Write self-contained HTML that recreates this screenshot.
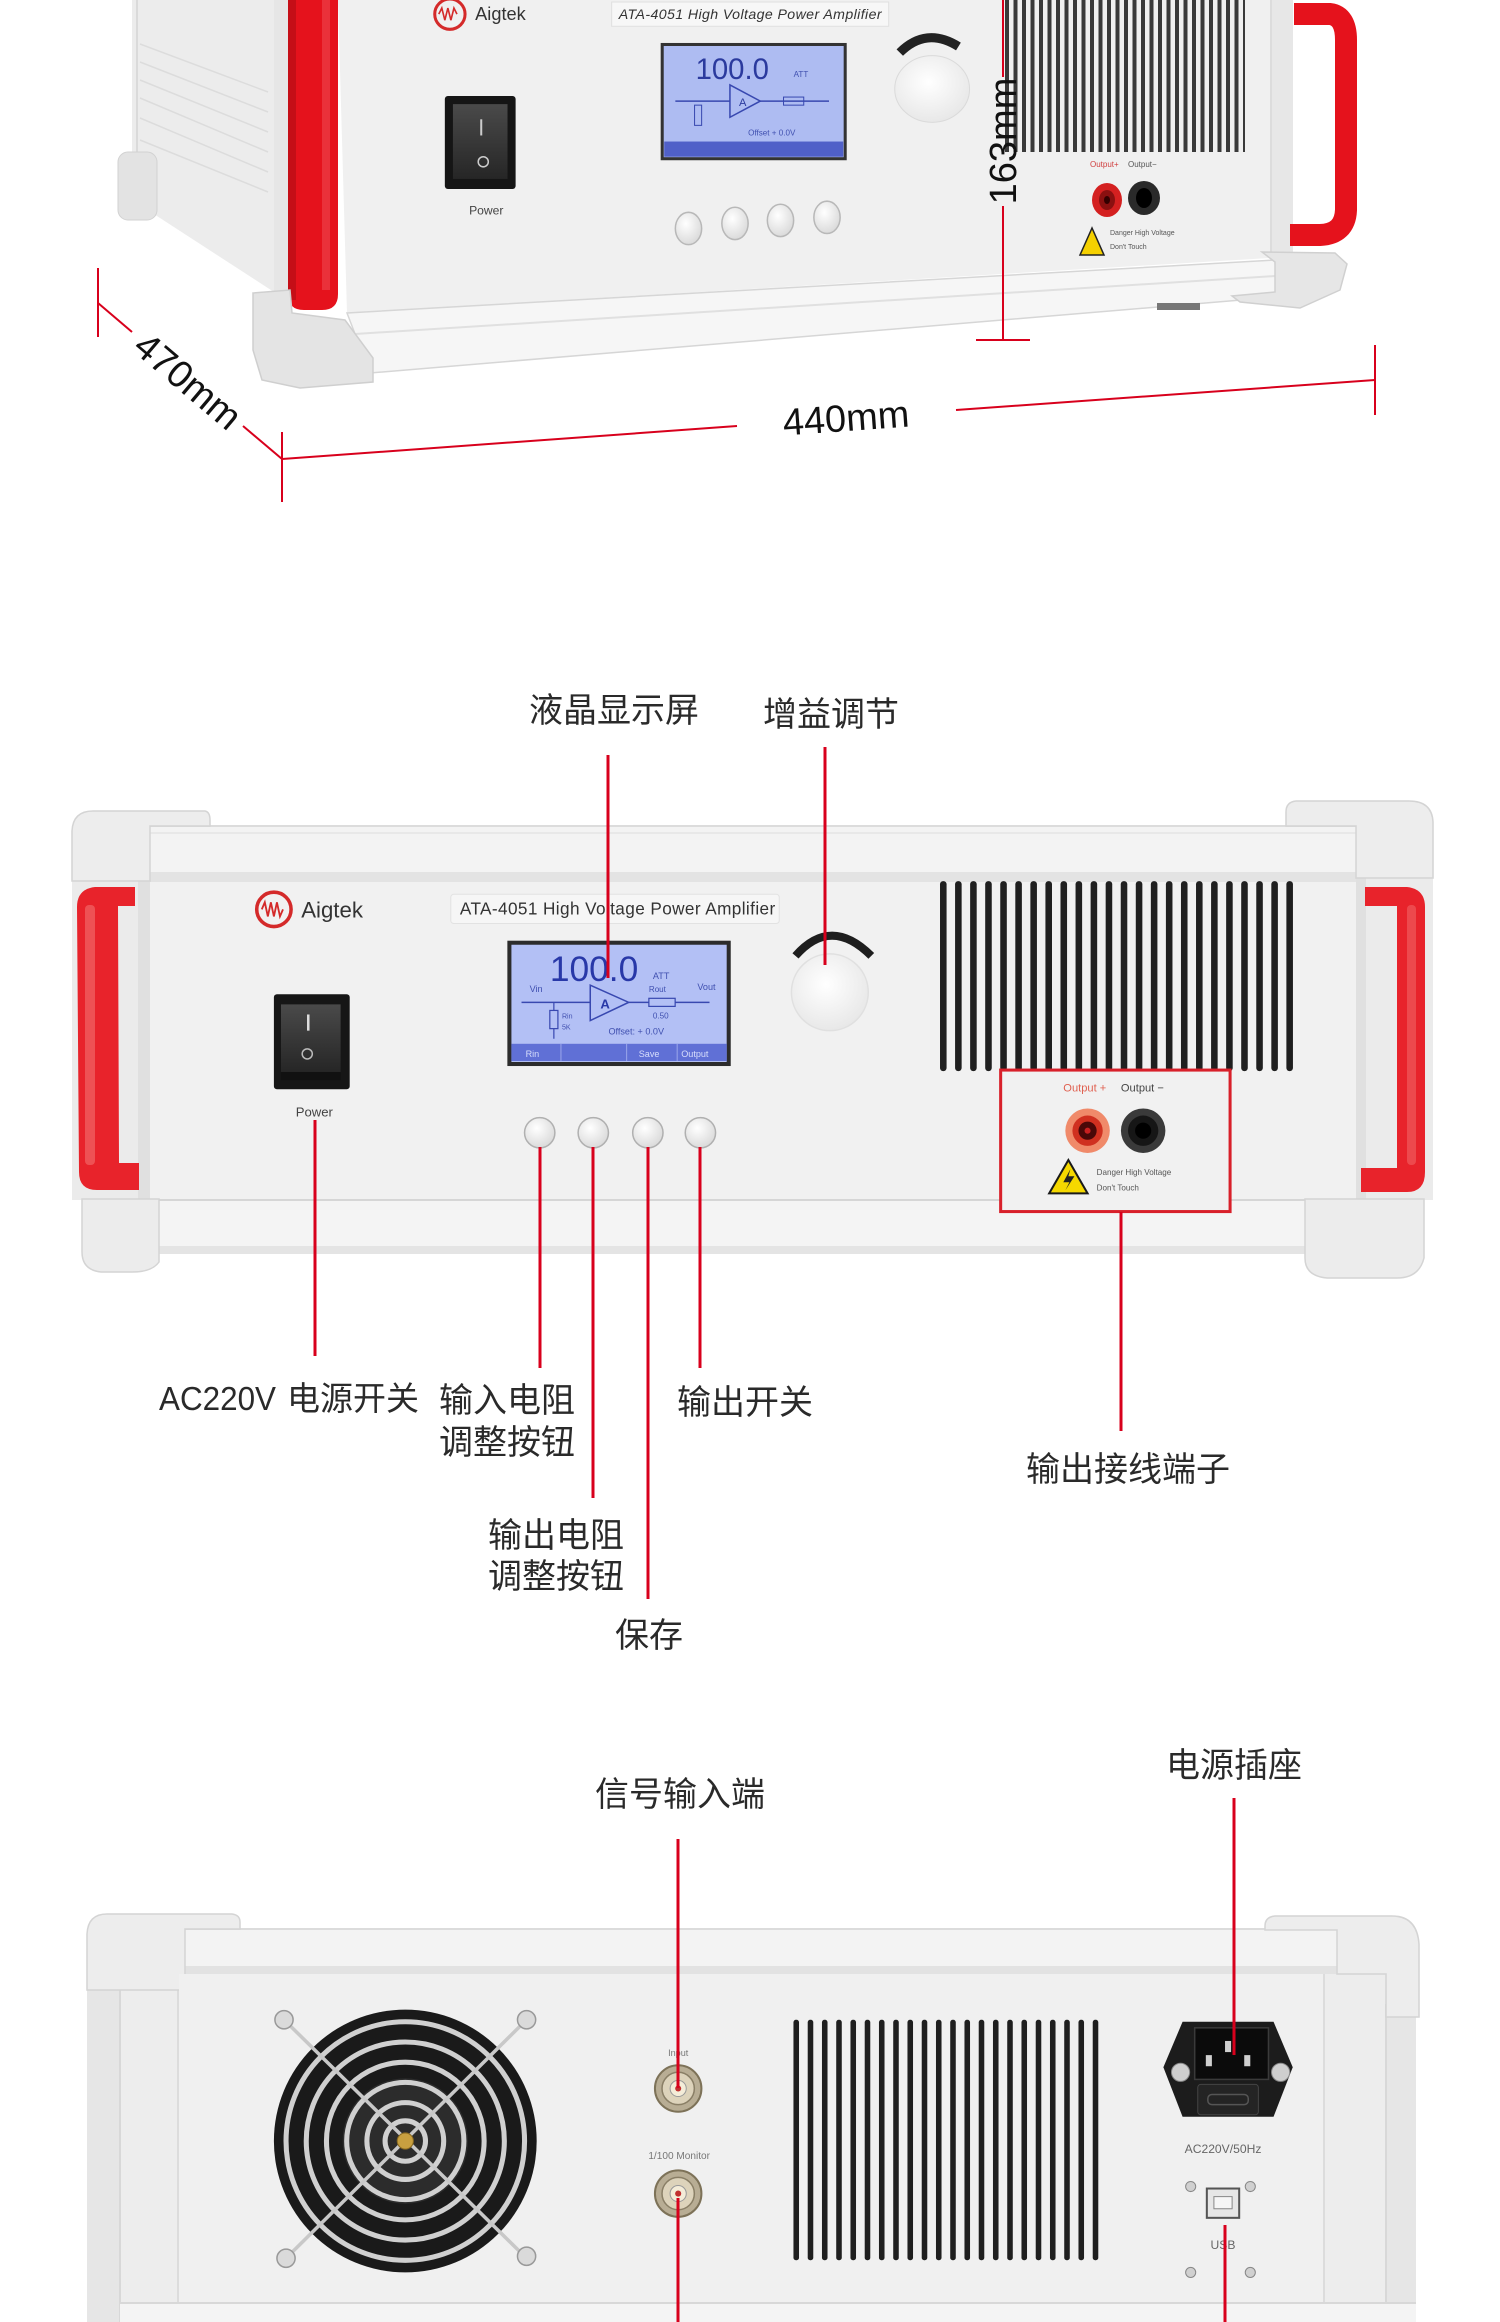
<!DOCTYPE html>
<html><head><meta charset="utf-8">
<style>
html,body{margin:0;padding:0;background:#fff;}
svg{display:block;}
.lb{font-family:"Liberation Sans","Noto Sans CJK SC",sans-serif;font-size:34px;fill:#2a2a2a;}
.dm{font-family:"Liberation Sans",sans-serif;font-size:38px;fill:#111;}
.sm{font-family:"Liberation Sans",sans-serif;}
.rl{stroke:#d8001c;stroke-width:3;fill:none;}
.dl{stroke:#d8001c;stroke-width:2;fill:none;}
</style></head><body>
<svg width="1500" height="2322" viewBox="0 0 1500 2322" xmlns="http://www.w3.org/2000/svg">
<defs>
<pattern id="v1" width="8.5" height="10" patternUnits="userSpaceOnUse" patternTransform="translate(1005,0)"><rect x="0" y="0" width="4" height="10" fill="#3a3a3a"/></pattern>
<radialGradient id="btn" cx="40%" cy="35%" r="70%"><stop offset="0" stop-color="#ffffff"/><stop offset="1" stop-color="#d8d8d8"/></radialGradient>
<radialGradient id="knob" cx="45%" cy="40%" r="65%"><stop offset="0" stop-color="#ffffff"/><stop offset="1" stop-color="#e6e6e6"/></radialGradient>
<linearGradient id="sw" x1="0" y1="0" x2="0" y2="1"><stop offset="0" stop-color="#4a4a4a"/><stop offset="1" stop-color="#262626"/></linearGradient>
</defs>

<!-- ================= TOP SECTION ================= -->
<!-- side panel -->
<polygon points="132,0 274,0 274,292 140,205 132,200" fill="#ececec"/>
<line x1="137" y1="0" x2="137" y2="203" stroke="#dadada" stroke-width="2"/>
<g stroke="#dcdcdc" stroke-width="1.5">
<line x1="140" y1="44" x2="268" y2="92"/><line x1="140" y1="62" x2="268" y2="112"/>
<line x1="140" y1="80" x2="268" y2="132"/><line x1="140" y1="98" x2="268" y2="152"/>
<line x1="140" y1="118" x2="268" y2="172"/><line x1="140" y1="140" x2="268" y2="192"/>
</g>
<rect x="118" y="152" width="39" height="68" rx="10" fill="#e3e3e3" stroke="#d2d2d2"/>
<rect x="274" y="0" width="16" height="300" fill="#e6e6e6"/>
<!-- left handle -->
<path d="M288,0 L338,0 L338,294 Q338,310 322,310 L304,310 Q288,310 288,294 Z" fill="#e5121c"/>
<rect x="288" y="0" width="8" height="300" fill="#b80d15" opacity="0.7"/>
<rect x="322" y="0" width="8" height="290" fill="#f05058" opacity="0.5"/>
<!-- front panel -->
<polygon points="338,0 1270,0 1270,258 347,313" fill="#f0f0f0"/>
<!-- bottom rail -->
<polygon points="347,313 1275,260 1277,297 370,373" fill="#f6f6f6" stroke="#d6d6d6" stroke-width="1.5"/>
<line x1="355" y1="334" x2="1275" y2="276" stroke="#e0e0e0" stroke-width="2"/>
<polygon points="253,293 290,290 292,313 345,320 373,358 373,382 300,388 262,380 253,350" fill="#e4e4e4" stroke="#cfcfcf" stroke-width="1.5"/>
<!-- right column + handle + foot -->
<rect x="1270" y="0" width="23" height="258" fill="#e7e7e7"/>
<line x1="1271" y1="0" x2="1271" y2="258" stroke="#d8d8d8" stroke-width="1.5"/>
<path d="M1294,14 L1330,14 Q1346,16 1346,40 L1346,210 Q1345,234 1320,235 L1290,235" stroke="#e5121c" stroke-width="22" fill="none"/>
<polygon points="1262,252 1335,253 1347,264 1340,290 1300,308 1240,302 1232,296 1275,292 1275,262" fill="#e6e6e6" stroke="#d0d0d0" stroke-width="1.5"/>
<rect x="1157" y="303" width="43" height="7" fill="#777"/>
<!-- vents -->
<rect x="1005" y="0" width="240" height="152" fill="url(#v1)"/>

<g transform="scale(1.011)">
<!-- logo / label -->
<circle cx="445" cy="14" r="15" fill="none" stroke="#d42a2a" stroke-width="3"/>
<path d="M434,14 l3,-6 l3,12 l3,-12 l3,12 l3,-12 l3,6" stroke="#d42a2a" stroke-width="1.6" fill="none"/>
<text x="470" y="20" class="sm" font-size="18" fill="#333">Aigtek</text>
<rect x="605" y="2" width="274" height="24" fill="#f7f7f7" stroke="#e0e0e0"/>
<text x="612" y="19" class="sm" font-size="14" font-style="italic" fill="#333" textLength="260">ATA-4051  High Voltage Power Amplifier</text>
<!-- LCD top -->
<rect x="655" y="44" width="181" height="113" fill="#aebcf2" stroke="#333" stroke-width="3"/>
<text x="688" y="78" class="sm" font-size="29" fill="#2b3a9e">100.0</text>
<text x="785" y="76" class="sm" font-size="8" fill="#4050b0">ATT</text>
<line x1="668" y1="100" x2="820" y2="100" stroke="#3848b0" stroke-width="1.5"/>
<polygon points="722,84 722,116 752,100" fill="#aebcf2" stroke="#3848b0" stroke-width="1.5"/>
<text x="731" y="105" class="sm" font-size="11" fill="#2b3a9e">A</text>
<rect x="775" y="96" width="20" height="8" fill="none" stroke="#3848b0"/>
<rect x="687" y="104" width="7" height="20" fill="none" stroke="#3848b0"/>
<text x="740" y="134" class="sm" font-size="8" fill="#4050b0">Offset + 0.0V</text>
<rect x="657" y="140" width="177" height="15" fill="#5060c8"/>
<!-- power switch top -->
<rect x="440" y="95" width="70" height="92" rx="3" fill="#151515"/>
<rect x="448" y="103" width="54" height="74" fill="url(#sw)"/>
<line x1="476" y1="118" x2="476" y2="134" stroke="#ccc" stroke-width="2"/>
<circle cx="478" cy="160" r="5" fill="none" stroke="#ccc" stroke-width="1.5"/>
<text x="481" y="212" class="sm" font-size="12" fill="#444" text-anchor="middle">Power</text>
<!-- knob top -->
<path d="M890,52 Q916,26 948,46" stroke="#222" stroke-width="9" fill="none"/>
<ellipse cx="922" cy="88" rx="37" ry="33" fill="url(#knob)" stroke="#dadada"/>
<!-- buttons top -->
<g fill="url(#btn)" stroke="#b8b8b8" stroke-width="1.5">
<ellipse cx="681" cy="226" rx="13" ry="16"/><ellipse cx="727" cy="221" rx="13" ry="16"/>
<ellipse cx="772" cy="218" rx="13" ry="16"/><ellipse cx="818" cy="215" rx="13" ry="16"/>
</g>
</g>
<!-- terminals top -->
<text x="1090" y="167" class="sm" font-size="8" fill="#d04040">Output+</text>
<text x="1128" y="167" class="sm" font-size="8" fill="#555">Output−</text>
<ellipse cx="1107" cy="200" rx="15" ry="17" fill="#d42020"/>
<ellipse cx="1107" cy="200" rx="8" ry="10" fill="#8a1010"/>
<ellipse cx="1107" cy="200" rx="3" ry="4" fill="#300"/>
<ellipse cx="1144" cy="198" rx="16" ry="17" fill="#2a2a2a"/>
<ellipse cx="1144" cy="198" rx="8" ry="10" fill="#000"/>
<polygon points="1092,228 1080,255 1104,255" fill="#f5d000" stroke="#222" stroke-width="1.5"/>
<text x="1110" y="235" class="sm" font-size="7" fill="#555">Danger High Voltage</text>
<text x="1110" y="249" class="sm" font-size="7" fill="#555">Don't Touch</text>

<!-- dimensions -->
<line x1="1003" y1="0" x2="1003" y2="77" class="dl"/>
<line x1="1003" y1="206" x2="1003" y2="340" class="dl"/>
<line x1="976" y1="340" x2="1030" y2="340" class="dl"/>
<text class="dm" text-anchor="middle" transform="translate(1003,141) rotate(-90)" x="0" y="13">163mm</text>

<line x1="98" y1="268" x2="98" y2="337" class="dl"/>
<line x1="98" y1="303" x2="132" y2="332" class="dl"/>
<line x1="243" y1="426" x2="282" y2="459" class="dl"/>
<line x1="282" y1="432" x2="282" y2="502" class="dl"/>
<text class="dm" text-anchor="middle" transform="translate(188,381) rotate(40.3)" x="0" y="13">470mm</text>

<line x1="282" y1="459" x2="737" y2="426" class="dl"/>
<line x1="956" y1="410" x2="1375" y2="380" class="dl"/>
<line x1="1375" y1="345" x2="1375" y2="415" class="dl"/>
<text class="dm" text-anchor="middle" transform="translate(846,418) rotate(-4.1)" x="0" y="13">440mm</text>

<!-- ================= MIDDLE SECTION ================= -->
<text x="529" y="722" class="lb">液晶显示屏</text>
<text x="763" y="726" class="lb">增益调节</text>

<!-- top rail -->
<rect x="142" y="825" width="1219" height="57" fill="#f3f3f3"/>
<line x1="142" y1="826" x2="1361" y2="826" stroke="#dcdcdc" stroke-width="2"/>
<line x1="142" y1="833" x2="1361" y2="833" stroke="#e4e4e4" stroke-width="1.5"/>
<rect x="142" y="872" width="1219" height="10" fill="#e3e3e3"/>
<!-- side zones -->
<rect x="72" y="880" width="78" height="320" fill="#ebebeb"/>
<rect x="1356" y="878" width="77" height="322" fill="#ebebeb"/>
<rect x="138" y="880" width="12" height="320" fill="#e0e0e0"/>
<rect x="1356" y="878" width="10" height="322" fill="#e0e0e0"/>
<!-- brackets -->
<path d="M72,881 L72,831 Q73,811 93,811 L205,811 Q210,812 210,820 L210,826 L150,826 L150,881 Z" fill="#ededed" stroke="#d4d4d4" stroke-width="1.5"/>
<path d="M1433,878 L1433,822 Q1432,801 1409,801 L1296,801 Q1286,802 1286,812 L1286,826 L1356,826 L1356,878 Z" fill="#ededed" stroke="#d4d4d4" stroke-width="1.5"/>
<!-- panel -->
<rect x="150" y="882" width="1206" height="317" fill="#f1f1f1"/>
<!-- handles -->
<path d="M135,887 L95,887 Q77,889 77,907 L79,1172 Q79,1190 97,1190 L139,1190 L139,1163 L119,1163 L118,906 L135,906 Z" fill="#e8232b"/>
<rect x="85" y="905" width="10" height="260" rx="4" fill="#f27070" opacity="0.6"/>
<path d="M1365,887 L1407,887 Q1425,889 1425,907 L1425,1172 Q1425,1192 1407,1192 L1361,1192 L1361,1168 L1397,1168 L1397,906 L1365,906 Z" fill="#e8232b"/>
<rect x="1407" y="905" width="9" height="260" rx="4" fill="#f27070" opacity="0.5"/>
<!-- bottom rail -->
<rect x="82" y="1199" width="1342" height="55" fill="#f4f4f4"/>
<line x1="82" y1="1200" x2="1424" y2="1200" stroke="#d6d6d6" stroke-width="2"/>
<rect x="82" y="1246" width="1342" height="8" fill="#e4e4e4"/>
<path d="M82,1199 L159,1199 L159,1262 Q152,1272 132,1272 L101,1272 Q82,1270 82,1252 Z" fill="#ececec" stroke="#d4d4d4" stroke-width="1.5"/>
<path d="M1305,1199 L1424,1199 L1424,1258 Q1419,1278 1397,1278 L1327,1278 Q1305,1276 1305,1258 Z" fill="#ececec" stroke="#d4d4d4" stroke-width="1.5"/>

<g transform="translate(0,780) scale(1.0107) translate(0,-780)">
<!-- logo -->
<circle cx="271" cy="908" r="17" fill="none" stroke="#d42a2a" stroke-width="3.5"/>
<path d="M259,908 l3,-7 l3,14 l3,-14 l3,14 l3,-14 l3,14 l3,-7" stroke="#d42a2a" stroke-width="1.8" fill="none"/>
<text x="298" y="916" class="sm" font-size="22" fill="#333">Aigtek</text>
<rect x="446" y="893" width="325" height="29" rx="3" fill="#f6f6f6" stroke="#e2e2e2"/>
<text x="455" y="913" class="sm" font-size="17" fill="#333" textLength="312">ATA-4051  High Voltage Power Amplifier</text>
<!-- LCD -->
<rect x="504" y="941" width="217" height="120" fill="#b3c0f5" stroke="#2c2c2c" stroke-width="4"/>
<text x="544" y="979" class="sm" font-size="35" fill="#2838a8">100.0</text>
<text x="646" y="977" class="sm" font-size="9" fill="#4050b0">ATT</text>
<text x="524" y="990" class="sm" font-size="9" fill="#4050b0">Vin</text>
<text x="690" y="988" class="sm" font-size="9" fill="#4050b0">Vout</text>
<text x="642" y="990" class="sm" font-size="8" fill="#4050b0">Rout</text>
<line x1="516" y1="1000" x2="702" y2="1000" stroke="#3848b0" stroke-width="1.5"/>
<polygon points="584,983 584,1018 622,1000" fill="#b3c0f5" stroke="#3848b0" stroke-width="1.5"/>
<text x="594" y="1006" class="sm" font-size="13" font-weight="bold" fill="#2838a8">A</text>
<rect x="642" y="996" width="26" height="8" fill="#b3c0f5" stroke="#3848b0" stroke-width="1.2"/>
<text x="646" y="1016" class="sm" font-size="8" fill="#4050b0">0.50</text>
<line x1="548" y1="1000" x2="548" y2="1036" stroke="#3848b0" stroke-width="1.2"/>
<rect x="544" y="1008" width="8" height="18" fill="#b3c0f5" stroke="#3848b0" stroke-width="1.2"/>
<text x="556" y="1016" class="sm" font-size="7" fill="#4050b0">Rin</text>
<text x="556" y="1027" class="sm" font-size="7" fill="#4050b0">5K</text>
<text x="602" y="1032" class="sm" font-size="9" fill="#4050b0">Offset:  +    0.0V</text>
<rect x="506" y="1041" width="213" height="17" fill="#6070d6"/>
<line x1="555" y1="1041" x2="555" y2="1058" stroke="#9aa6ea"/>
<line x1="620" y1="1041" x2="620" y2="1058" stroke="#9aa6ea"/>
<line x1="670" y1="1041" x2="670" y2="1058" stroke="#9aa6ea"/>
<text x="520" y="1054" class="sm" font-size="9" fill="#d8defc">Rin</text>
<text x="632" y="1054" class="sm" font-size="9" fill="#d8defc">Save</text>
<text x="674" y="1054" class="sm" font-size="9" fill="#d8defc">Output</text>
<!-- power switch -->
<rect x="271" y="992" width="75" height="94" rx="3" fill="#161616"/>
<rect x="278" y="1002" width="59" height="67" fill="url(#sw)"/>
<rect x="278" y="1069" width="59" height="8" fill="#111"/>
<line x1="305" y1="1012" x2="305" y2="1028" stroke="#ddd" stroke-width="2.5"/>
<circle cx="304" cy="1051" r="5" fill="none" stroke="#bbb" stroke-width="1.5"/>
<text x="311" y="1113" class="sm" font-size="13" fill="#444" text-anchor="middle">Power</text>
<!-- buttons -->
<g fill="url(#btn)" stroke="#b0b0b0" stroke-width="1.5">
<circle cx="534" cy="1129" r="15"/><circle cx="587" cy="1129" r="15"/>
<circle cx="641" cy="1129" r="15"/><circle cx="693" cy="1129" r="15"/>
</g>
</g>

<g transform="translate(750,780) scale(1.0107) translate(-750,-780)">
<!-- knob -->
<path d="M795,954 Q830,914 870,954" stroke="#1e1e1e" stroke-width="8" fill="none"/>
<circle cx="829" cy="990" r="38" fill="url(#knob)" stroke="#e0e0e0" stroke-width="1.5"/>
<!-- vents middle -->
<g fill="#1f1f1f">
<rect x="938" y="880" width="6.5" height="188" rx="3"/><rect x="952.9" y="880" width="6.5" height="188" rx="3"/>
<rect x="967.8" y="880" width="6.5" height="188" rx="3"/><rect x="982.7" y="880" width="6.5" height="188" rx="3"/>
<rect x="997.6" y="880" width="6.5" height="188" rx="3"/><rect x="1012.5" y="880" width="6.5" height="188" rx="3"/>
<rect x="1027.4" y="880" width="6.5" height="188" rx="3"/><rect x="1042.3" y="880" width="6.5" height="188" rx="3"/>
<rect x="1057.2" y="880" width="6.5" height="188" rx="3"/><rect x="1072.1" y="880" width="6.5" height="188" rx="3"/>
<rect x="1087" y="880" width="6.5" height="188" rx="3"/><rect x="1101.9" y="880" width="6.5" height="188" rx="3"/>
<rect x="1116.8" y="880" width="6.5" height="188" rx="3"/><rect x="1131.7" y="880" width="6.5" height="188" rx="3"/>
<rect x="1146.6" y="880" width="6.5" height="188" rx="3"/><rect x="1161.5" y="880" width="6.5" height="188" rx="3"/>
<rect x="1176.4" y="880" width="6.5" height="188" rx="3"/><rect x="1191.3" y="880" width="6.5" height="188" rx="3"/>
<rect x="1206.2" y="880" width="6.5" height="188" rx="3"/><rect x="1221.1" y="880" width="6.5" height="188" rx="3"/>
<rect x="1236" y="880" width="6.5" height="188" rx="3"/><rect x="1250.9" y="880" width="6.5" height="188" rx="3"/>
<rect x="1265.8" y="880" width="6.5" height="188" rx="3"/><rect x="1280.7" y="880" width="6.5" height="188" rx="3"/>
</g>
<!-- output box -->
<rect x="998" y="1067" width="227" height="140" fill="#f1f1f1" stroke="#d8202a" stroke-width="3"/>
<text x="1060" y="1088" class="sm" font-size="11" fill="#e06050">Output +</text>
<text x="1117" y="1088" class="sm" font-size="11" fill="#444">Output −</text>
<circle cx="1084" cy="1127" r="22" fill="#f08a6a"/>
<circle cx="1084" cy="1127" r="15" fill="#d03020"/>
<circle cx="1084" cy="1127" r="9" fill="#4a0808"/>
<circle cx="1084" cy="1127" r="3" fill="#c82020"/>
<circle cx="1139" cy="1127" r="22" fill="#3a3a3a"/>
<circle cx="1139" cy="1127" r="15" fill="#161616"/>
<circle cx="1139" cy="1127" r="8" fill="#000"/>
<polygon points="1065,1156 1046,1189 1084,1189" fill="#f5d800" stroke="#1a1a1a" stroke-width="2"/>
<path d="M1067,1165 L1060,1178 L1066,1178 L1062,1186 L1071,1172 L1065,1172 Z" fill="#222"/>
<text x="1093" y="1171" class="sm" font-size="8" fill="#555">Danger High Voltage</text>
<text x="1093" y="1186" class="sm" font-size="8" fill="#555">Don't Touch</text>
</g>

<!-- middle red lines -->
<line x1="608" y1="755" x2="608" y2="978" class="rl"/>
<line x1="825" y1="747" x2="825" y2="965" class="rl"/>
<line x1="315" y1="1120" x2="315" y2="1356" class="rl"/>
<line x1="540" y1="1147" x2="540" y2="1368" class="rl"/>
<line x1="593" y1="1147" x2="593" y2="1498" class="rl"/>
<line x1="648" y1="1147" x2="648" y2="1599" class="rl"/>
<line x1="700" y1="1147" x2="700" y2="1368" class="rl"/>
<line x1="1121" y1="1212" x2="1121" y2="1431" class="rl"/>

<!-- middle labels -->
<text x="159" y="1410" class="sm" font-size="33" fill="#2a2a2a" textLength="117" lengthAdjust="spacingAndGlyphs">AC220V</text>
<text x="287" y="1410" class="lb" style="font-size:33px">电源开关</text>
<text x="439" y="1412" class="lb">输入电阻</text>
<text x="439" y="1454" class="lb">调整按钮</text>
<text x="677" y="1414" class="lb">输出开关</text>
<text x="488" y="1547" class="lb">输出电阻</text>
<text x="488" y="1588" class="lb">调整按钮</text>
<text x="615" y="1647" class="lb">保存</text>
<text x="1026" y="1481" class="lb">输出接线端子</text>

<!-- ================= BOTTOM SECTION ================= -->
<text x="595" y="1806" class="lb">信号输入端</text>
<text x="1166" y="1777" class="lb">电源插座</text>

<!-- top rail -->
<rect x="172" y="1928" width="1165" height="46" fill="#f3f3f3"/>
<line x1="172" y1="1929" x2="1337" y2="1929" stroke="#dcdcdc" stroke-width="2"/>
<rect x="172" y="1966" width="1165" height="8" fill="#e2e2e2"/>
<!-- side columns -->
<rect x="87" y="1990" width="33" height="332" fill="#e6e6e6"/>
<rect x="120" y="1974" width="58" height="348" fill="#ededed"/>
<line x1="120" y1="1990" x2="120" y2="2322" stroke="#d8d8d8" stroke-width="2"/>
<line x1="178" y1="1974" x2="178" y2="2322" stroke="#dcdcdc" stroke-width="2"/>
<rect x="1386" y="2017" width="30" height="305" fill="#e6e6e6"/>
<rect x="1324" y="1974" width="62" height="348" fill="#ededed"/>
<line x1="1324" y1="1974" x2="1324" y2="2322" stroke="#dcdcdc" stroke-width="2"/>
<line x1="1386" y1="2004" x2="1386" y2="2322" stroke="#d8d8d8" stroke-width="2"/>
<!-- brackets -->
<path d="M87,1990 L87,1934 Q88,1914 107,1914 L232,1914 Q240,1915 240,1922 L240,1929 L185,1929 L185,1990 Z" fill="#ededed" stroke="#d4d4d4" stroke-width="1.5"/>
<path d="M1419,2017 L1419,1944 Q1417,1916 1392,1916 L1275,1916 Q1265,1917 1265,1926 L1265,1930 L1337,1930 L1337,1974 L1386,1974 L1386,2017 Z" fill="#ededed" stroke="#d4d4d4" stroke-width="1.5"/>
<!-- panel -->
<rect x="179" y="1974" width="1144" height="348" fill="#f0f0f0"/>
<rect x="120" y="2302" width="1296" height="20" fill="#f4f4f4"/>
<line x1="120" y1="2303" x2="1416" y2="2303" stroke="#d8d8d8" stroke-width="2"/>

<g transform="translate(0,1572) scale(1.0107) translate(0,-1572)">
<!-- fan -->
<circle cx="401" cy="2135" r="130" fill="#1a1a1a"/>
<circle cx="401" cy="2135" r="62" fill="#2c2c2c"/>
<g fill="none" stroke="#d0d0d0" stroke-width="5">
<circle cx="401" cy="2135" r="118"/><circle cx="401" cy="2135" r="98"/>
<circle cx="401" cy="2135" r="78"/><circle cx="401" cy="2135" r="58"/>
<circle cx="401" cy="2135" r="38"/><circle cx="401" cy="2135" r="20"/>
</g>
<g stroke="#c8c8c8" stroke-width="3.5">
<line x1="281" y1="2015" x2="521" y2="2251"/>
<line x1="521" y1="2015" x2="283" y2="2251"/>
</g>
<circle cx="401" cy="2135" r="8" fill="#c8a040" stroke="#8a6a20"/>
<g fill="#dadada" stroke="#999" stroke-width="1.5">
<circle cx="281" cy="2015" r="9"/><circle cx="521" cy="2015" r="9"/>
<circle cx="283" cy="2251" r="9"/><circle cx="521" cy="2249" r="9"/>
</g>
<!-- BNC -->
<text x="671" y="2051" class="sm" font-size="9" fill="#777" text-anchor="middle">Input</text>
<circle cx="671" cy="2083" r="23" fill="#b8ad94" stroke="#7d7258" stroke-width="2"/>
<circle cx="671" cy="2083" r="16" fill="#ddd3bb" stroke="#8a7f66" stroke-width="1.5"/>
<circle cx="671" cy="2083" r="8" fill="#f4ecd8" stroke="#999"/>
<circle cx="671" cy="2083" r="3" fill="#c03030"/>
<text x="672" y="2153" class="sm" font-size="10" fill="#777" text-anchor="middle">1/100 Monitor</text>
<circle cx="671" cy="2187" r="23" fill="#b8ad94" stroke="#7d7258" stroke-width="2"/>
<circle cx="671" cy="2187" r="16" fill="#ddd3bb" stroke="#8a7f66" stroke-width="1.5"/>
<circle cx="671" cy="2187" r="8" fill="#f4ecd8" stroke="#999"/>
<circle cx="671" cy="2187" r="3" fill="#c03030"/>
</g>

<g transform="translate(750,1572) scale(1.0107) translate(-750,-1572)">
<!-- vents bottom -->
<g fill="#1f1f1f">
<rect x="793" y="2015" width="5.5" height="238" rx="2.5"/><rect x="807.1" y="2015" width="5.5" height="238" rx="2.5"/>
<rect x="821.2" y="2015" width="5.5" height="238" rx="2.5"/><rect x="835.3" y="2015" width="5.5" height="238" rx="2.5"/>
<rect x="849.4" y="2015" width="5.5" height="238" rx="2.5"/><rect x="863.5" y="2015" width="5.5" height="238" rx="2.5"/>
<rect x="877.6" y="2015" width="5.5" height="238" rx="2.5"/><rect x="891.7" y="2015" width="5.5" height="238" rx="2.5"/>
<rect x="905.8" y="2015" width="5.5" height="238" rx="2.5"/><rect x="919.9" y="2015" width="5.5" height="238" rx="2.5"/>
<rect x="934" y="2015" width="5.5" height="238" rx="2.5"/><rect x="948.1" y="2015" width="5.5" height="238" rx="2.5"/>
<rect x="962.2" y="2015" width="5.5" height="238" rx="2.5"/><rect x="976.3" y="2015" width="5.5" height="238" rx="2.5"/>
<rect x="990.4" y="2015" width="5.5" height="238" rx="2.5"/><rect x="1004.5" y="2015" width="5.5" height="238" rx="2.5"/>
<rect x="1018.6" y="2015" width="5.5" height="238" rx="2.5"/><rect x="1032.7" y="2015" width="5.5" height="238" rx="2.5"/>
<rect x="1046.8" y="2015" width="5.5" height="238" rx="2.5"/><rect x="1060.9" y="2015" width="5.5" height="238" rx="2.5"/>
<rect x="1075" y="2015" width="5.5" height="238" rx="2.5"/><rect x="1089.1" y="2015" width="5.5" height="238" rx="2.5"/>
</g>
<!-- power socket -->
<polygon points="1178,2017 1268,2017 1287,2062 1268,2111 1178,2111 1159,2062" fill="#1c1c1c"/>
<rect x="1190" y="2023" width="73" height="51" fill="#0b0b0b" stroke="#3a3a3a" stroke-width="1.5"/>
<g fill="#cfcfcf">
<rect x="1201" y="2050" width="6" height="11"/><rect x="1220" y="2036" width="6" height="11"/><rect x="1239" y="2050" width="6" height="11"/>
</g>
<circle cx="1176" cy="2067" r="9" fill="#cfcfcf" stroke="#888"/>
<circle cx="1275" cy="2067" r="9" fill="#cfcfcf" stroke="#888"/>
<rect x="1193" y="2079" width="60" height="30" rx="3" fill="#242424" stroke="#444"/>
<rect x="1203" y="2089" width="40" height="10" rx="4" fill="none" stroke="#555" stroke-width="1.5"/>
<text x="1218" y="2147" class="sm" font-size="12" fill="#666" text-anchor="middle">AC220V/50Hz</text>
<!-- USB -->
<g fill="#d0d0d0" stroke="#888">
<circle cx="1186" cy="2180" r="5"/><circle cx="1245" cy="2180" r="5"/>
<circle cx="1186" cy="2265" r="5"/><circle cx="1245" cy="2265" r="5"/>
</g>
<rect x="1202" y="2182" width="32" height="29" fill="#e6e6e6" stroke="#555" stroke-width="2"/>
<rect x="1209" y="2190" width="18" height="12" fill="#f6f6f6" stroke="#888"/>
<text x="1218" y="2242" class="sm" font-size="12" fill="#666" text-anchor="middle">USB</text>
</g>

<!-- bottom red lines -->
<line x1="678" y1="1839" x2="678" y2="2088" class="rl"/>
<line x1="678" y1="2198" x2="678" y2="2322" class="rl"/>
<line x1="1234" y1="1798" x2="1234" y2="2055" class="rl"/>
<line x1="1225" y1="2225" x2="1225" y2="2322" class="rl"/>
</svg>
</body></html>
